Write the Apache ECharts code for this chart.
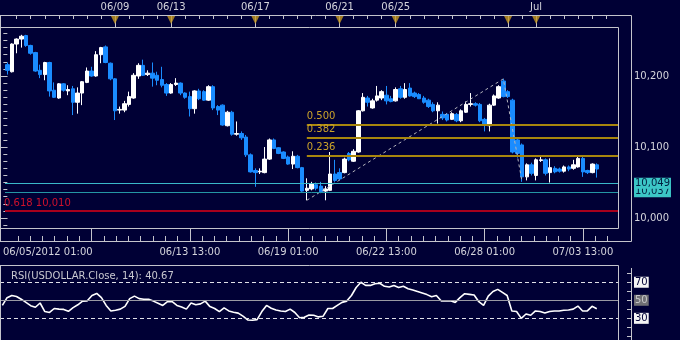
<!DOCTYPE html>
<html><head><meta charset="utf-8">
<script src="https://cdn.jsdelivr.net/npm/echarts@6/dist/echarts.min.js"></script>
<style>html,body{margin:0;padding:0;background:#000035;}#c{width:680px;height:340px;}</style>
</head><body><div id="c"></div>
<script>
// ---- data ----
const ohlc = [ // [open, close, low, high], 4-hour bars
[10216,10208,10202,10219],[10206,10245,10205,10246],[10245,10252,10232,10253],[10252,10256,10240,10258],
[10257,10243,10241,10258],[10243,10232,10230,10244],[10233,10207,10206,10234],[10208,10202,10197,10216],
[10202,10219,10194,10220],[10219,10179,10171,10220],[10180,10170,10169,10191],[10169,10189,10168,10190],
[10189,10180,10178,10190],[10179,10181,10173,10187],[10182,10163,10145,10186],[10163,10176,10147,10184],
[10176,10192,10159,10193],[10191,10207,10190,10212],[10207,10200,10199,10213],[10200,10230,10199,10235],
[10230,10240,10218,10241],[10241,10219,10218,10243],[10218,10196,10194,10219],[10196,10151,10138,10197],
[10152,10153,10147,10157],[10152,10161,10149,10165],[10160,10171,10157,10178],[10169,10201,10168,10204],
[10200,10215,10196,10218],[10215,10201,10200,10223],[10202,10204,10200,10208],[10204,10197,10185,10219],
[10201,10194,10187,10206],[10195,10187,10184,10213],[10188,10176,10172,10190],[10176,10188,10175,10190],
[10188,10190,10186,10197],[10190,10176,10173,10191],[10176,10170,10168,10177],[10171,10154,10143,10178],
[10154,10179,10147,10180],[10179,10168,10166,10182],[10178,10166,10165,10180],[10166,10185,10165,10187],
[10185,10155,10152,10187],[10157,10152,10145,10159],[10159,10131,10130,10160],[10130,10149,10129,10151],
[10149,10118,10116,10151],[10118,10119,10116,10136],[10119,10113,10110,10122],[10114,10089,10086,10117],
[10089,10065,10064,10091],[10067,10064,10044,10070],[10065,10066,10062,10070],[10064,10083,10063,10100],
[10083,10110,10082,10112],[10110,10098,10097,10112],[10099,10091,10090,10100],[10093,10084,10083,10094],
[10086,10076,10075,10088],[10076,10087,10069,10094],[10087,10071,10070,10089],[10071,10038,10037,10072],
[10039,10042,10025,10056],[10041,10048,10039,10051],[10047,10042,10039,10050],[10045,10037,10035,10051],
[10038,10041,10025,10045],[10039,10062,10038,10093],[10062,10053,10051,10082],[10064,10055,10053,10070],
[10064,10083,10063,10085],[10091,10082,10080,10093],[10080,10094,10079,10097],[10093,10151,10092,10152],
[10151,10170,10150,10176],[10169,10163,10157,10172],[10155,10165,10154,10168],[10166,10172,10164,10186],
[10169,10178,10166,10180],[10173,10165,10160,10186],[10168,10164,10163,10172],[10165,10181,10164,10184],
[10182,10170,10168,10186],[10170,10181,10168,10190],[10183,10172,10171,10190],[10176,10171,10169,10178],
[10174,10168,10168,10176],[10169,10163,10161,10172],[10166,10157,10155,10168],[10160,10151,10149,10163],
[10151,10159,10133,10163],[10146,10141,10138,10150],[10146,10138,10136,10148],[10139,10147,10138,10149],
[10146,10137,10135,10148],[10137,10151,10135,10153],[10149,10160,10148,10164],[10160,10161,10157,10176],
[10161,10159,10157,10163],[10160,10137,10135,10162],[10139,10131,10122,10141],[10130,10159,10122,10161],
[10159,10172,10158,10174],[10169,10185,10168,10187],[10193,10171,10170,10196],[10178,10171,10169,10180],
[10166,10093,10091,10168],[10110,10091,10085,10112],[10103,10058,10051,10105],[10058,10075,10053,10077],
[10075,10063,10060,10078],[10060,10082,10053,10084],[10081,10082,10079,10086],[10082,10063,10060,10084],
[10064,10071,10050,10084],[10070,10065,10063,10073],[10069,10066,10064,10071],[10066,10072,10064,10074],
[10072,10069,10066,10074],[10070,10075,10068,10082],[10072,10084,10071,10086],[10084,10065,10058,10086],
[10067,10064,10062,10068],[10064,10076,10063,10077],[10075,10069,10057,10077]
];
const rsi = [44.3,52.9,55.3,54.2,51.2,47.7,44.0,42.3,47.0,37.5,36.5,40.9,40.2,39.9,37.8,41.9,45.0,49.1,49.4,55.3,
57.6,52.9,44.3,38.2,38.9,40.2,43.3,51.8,54.6,51.8,51.2,51.2,49.1,46.7,44.3,48.4,48.4,44.3,42.6,40.2,
47.0,45.0,46.0,49.1,43.0,40.9,37.5,41.6,38.2,36.8,35.8,32.4,28.2,27.9,28.6,37.5,44.3,41.2,39.2,38.2,
37.5,40.2,36.5,30.6,31.3,33.7,33.4,31.6,32.4,40.9,40.9,44.3,47.7,49.1,55.3,64.2,70.0,66.5,66.5,68.3,
68.9,65.5,64.8,66.5,64.2,65.5,62.8,61.4,59.7,58.0,56.3,53.9,55.3,49.4,49.4,49.4,47.7,52.9,57.3,56.6,
55.9,48.4,44.3,54.6,59.7,62.1,58.7,55.3,38.2,37.5,30.0,34.8,33.4,38.2,37.5,35.8,37.5,38.2,38.2,38.9,
39.2,40.2,43.6,38.2,38.2,43.3,40.67];
const barSlots = 131;
const categories = Array.from({length: barSlots}, (_, i) => String(i));
const topTickValues = [23, 35, 53, 71, 83, 107, 113];
const topLabelValues = [23, 35, 53, 71, 83, 113];
const topLabels = ['06/09', '06/13', '06/17', '06/21', '06/25', 'Jul'];
const bottomTickValues = [18, 39, 60, 81, 102, 123];
const bottomLabelValues = [39, 60, 81, 102, 123];
const bottomLabels = ['06/13 13:00', '06/19 01:00', '06/22 13:00', '06/28 01:00', '07/03 13:00'];
const firstDateLabel = '06/05/2012 01:00';
const priceTicks = [10000, 10100, 10200];
const priceLabels = ['10,000', '10,100', '10,200'];
const fibNames = ['0.500', '0.382', '0.236'];
const fibValues = [10132, 10113, 10088];
const fibStartBar = 64;
const redLevel = 10010, redLabel = '0.618 10,010';
const supportValues = [10037, 10049];
const supportLabels = ['10,037', '10,049'];
const trendPoints = [[64, 10025], [106, 10196], [110, 10051]];
const rsiTickLabels = [30, 50, 70];
const rsiTitle = 'RSI(USDOLLAR.Close, 14): 40.67';

// ---- style ----
const BG = '#000035', AX = '#c4c4cc', TXT = '#d4d4dc';
const FONT = 'DejaVu Sans';
const xMin = -0.5, xMax = barSlots - 0.5;
const yMin = 9986, yMax = 10269;
const range = (a, b, s) => { const r = []; for (let v = a; v <= b + 1e-9; v += s) r.push(+v.toFixed(3)); return r; };
const topMinor = range(2, 128, 3);
const bottomMinor = range(18 - 6 * 2.625, 130, 2.625);
const priceMinor = range(9990, 10260, 10);
const rsiMinor = range(10, 80, 10);

const hidden = {axisLine:{show:false}, axisTick:{show:false}, axisLabel:{show:false}, splitLine:{show:false}};
const lbl = (extra) => Object.assign({color: TXT, fontFamily: FONT, fontSize: 10}, extra);

const chart = echarts.init(document.getElementById('c'), null, {renderer: 'canvas'});
const L = (x1, y1, x2, y2) => ({type:'line', shape:{x1, y1, x2, y2}, style:{stroke: AX, lineWidth: 1}, silent: true, z: 100});

chart.setOption({
  backgroundColor: BG,
  animation: false,
  textStyle: {fontFamily: FONT},
  title: {text: rsiTitle, left: 6, top: 266, textStyle: {color: '#c8c8d0', fontSize: 10, fontWeight: 'normal', fontFamily: FONT}},
  grid: [
    {left: -1, right: 62, top: 27, height: 201},
    {left: -1, right: 62, top: 266, height: 80}
  ],
  xAxis: [
    Object.assign({type: 'category', gridIndex: 0, data: categories, boundaryGap: true}, hidden),
    {type: 'value', gridIndex: 0, min: xMin, max: xMax, position: 'bottom', offset: 13,
     axisLine: {show: false}, splitLine: {show: false},
     axisTick: {show: true, inside: true, length: 13, customValues: bottomTickValues, lineStyle: {color: AX}},
     axisLabel: lbl({margin: 6, customValues: bottomLabelValues, formatter: v => bottomLabels[bottomLabelValues.indexOf(v)]})},
    {type: 'value', gridIndex: 0, min: xMin, max: xMax, position: 'bottom', offset: 13,
     axisLine: {show: false}, splitLine: {show: false}, axisLabel: {show: false},
     axisTick: {show: true, inside: true, length: 5, customValues: bottomMinor, lineStyle: {color: AX}}},
    {type: 'value', gridIndex: 0, min: xMin, max: xMax, position: 'bottom', offset: 13,
     axisLine: {show: false}, splitLine: {show: false}, axisTick: {show: false},
     axisLabel: lbl({margin: 6, align: 'left', padding: [0, 0, 0, -2], customValues: [xMin], formatter: () => firstDateLabel})},
    {type: 'value', gridIndex: 0, min: xMin, max: xMax, position: 'top', offset: 12,
     axisLine: {show: false}, splitLine: {show: false},
     axisTick: {show: true, inside: true, length: 12, customValues: topTickValues, lineStyle: {color: AX}},
     axisLabel: lbl({margin: 3, customValues: topLabelValues, formatter: v => topLabels[topLabelValues.indexOf(v)]})},
    {type: 'value', gridIndex: 0, min: xMin, max: xMax, position: 'top', offset: 12,
     axisLine: {show: false}, splitLine: {show: false}, axisLabel: {show: false},
     axisTick: {show: true, inside: true, length: 4, customValues: topMinor, lineStyle: {color: AX}}},
    Object.assign({type: 'category', gridIndex: 1, data: categories, boundaryGap: true}, hidden)
  ],
  yAxis: [
    {type: 'value', gridIndex: 0, min: yMin, max: yMax, position: 'right', offset: 13, scale: true,
     axisLine: {show: false}, splitLine: {show: false},
     axisTick: {show: true, inside: true, length: 13, customValues: priceTicks, lineStyle: {color: AX}},
     axisLabel: lbl({margin: 3, customValues: priceTicks, formatter: v => priceLabels[priceTicks.indexOf(v)]})},
    {type: 'value', gridIndex: 0, min: yMin, max: yMax, position: 'right', offset: 13, scale: true,
     axisLine: {show: false}, splitLine: {show: false}, axisLabel: {show: false},
     axisTick: {show: true, inside: true, length: 4, customValues: priceMinor, lineStyle: {color: AX}}},
    {type: 'value', gridIndex: 1, min: 6, max: 88, position: 'right', offset: 13,
     axisLine: {show: false}, splitLine: {show: false},
     axisTick: {show: true, inside: true, length: 4, customValues: rsiMinor, lineStyle: {color: AX}},
     axisLabel: lbl({margin: 3, customValues: rsiTickLabels,
       formatter: v => v === 50 ? '{g|' + v + '}' : '{w|' + v + '}',
       rich: {
         w: {backgroundColor: '#f4f4f4', color: '#000035', fontSize: 10, fontFamily: FONT, padding: [1, 1, 0, 1]},
         g: {backgroundColor: '#707074', color: '#c8c8c8', fontSize: 10, fontFamily: FONT, padding: [1, 1, 0, 1]}
       }})}
  ],
  series: [
    {type: 'candlestick', xAxisIndex: 0, yAxisIndex: 0, data: ohlc, barWidth: 4,
     itemStyle: {color: '#ffffff', color0: '#1a8cff', borderColor: '#ffffff', borderColor0: '#1a8cff', borderWidth: 1}},
    {type: 'line', xAxisIndex: 1, yAxisIndex: 0, data: trendPoints, symbol: 'none', z: 3,
     lineStyle: {color: '#b4b4bc', width: 1, type: [3, 3]},
     markLine: {silent: true, symbol: ['none', 'none'], animation: false,
       label: {show: true, fontFamily: FONT, fontSize: 10, formatter: '{b}'},
       data: [
         ...fibNames.map((n, i) => [
           {name: n, coord: [fibStartBar, fibValues[i]], lineStyle: {color: '#a8860e', width: 2, type: 'solid'},
            label: {position: 'insideStartTop', color: '#caa22a', distance: [0, 3]}},
           {coord: [xMax, fibValues[i]]}
         ]),
         {name: redLabel, yAxis: redLevel, lineStyle: {color: '#a8001c', width: 2, type: 'solid'},
          label: {position: 'insideStartTop', color: '#d0102c', distance: [-1, 3]}},
         ...supportValues.map((v, i) => ({name: supportLabels[i], yAxis: v,
          lineStyle: {color: i === 0 ? '#2496a4' : '#3ab8c8', width: 1, type: 'solid'},
          label: {position: 'end', distance: 16, color: '#002040', backgroundColor: '#3cc6c6', padding: [1, 1, 0, 1]}}))
       ]}},
    {type: 'scatter', xAxisIndex: 4, yAxisIndex: 0, clip: false, silent: true, z: 10,
     data: topTickValues.map(v => [v, yMax]), symbol: 'triangle', symbolRotate: 180, symbolSize: [8, 8],
     symbolOffset: [0, -7], itemStyle: {color: '#c89a22'}},
    {type: 'line', xAxisIndex: 6, yAxisIndex: 2, data: rsi, symbol: 'none',
     lineStyle: {color: '#ffffff', width: 1.6},
     markLine: {silent: true, symbol: ['none', 'none'], animation: false, label: {show: false},
       data: [
         {yAxis: 70, lineStyle: {color: '#e0e0e8', width: 1, type: [4, 3]}},
         {yAxis: 30, lineStyle: {color: '#e0e0e8', width: 1, type: [4, 3]}},
         {yAxis: 50, lineStyle: {color: '#9a9aa4', width: 1, type: 'solid'}}
       ]}}
  ],
  graphic: [
    L(0, 15.5, 631.5, 15.5), L(0.5, 15.5, 0.5, 241.5), L(0, 241.5, 631.5, 241.5), L(631.5, 15.5, 631.5, 241.5),
    L(0, 27.5, 618.5, 27.5), L(618.5, 27.5, 618.5, 228.5), L(0, 228.5, 618.5, 228.5),
    L(0, 265.5, 618.5, 265.5), L(0.5, 265.5, 0.5, 340), L(618.5, 265.5, 618.5, 340), L(631.5, 268, 631.5, 340)
  ]
});
</script></body></html>
